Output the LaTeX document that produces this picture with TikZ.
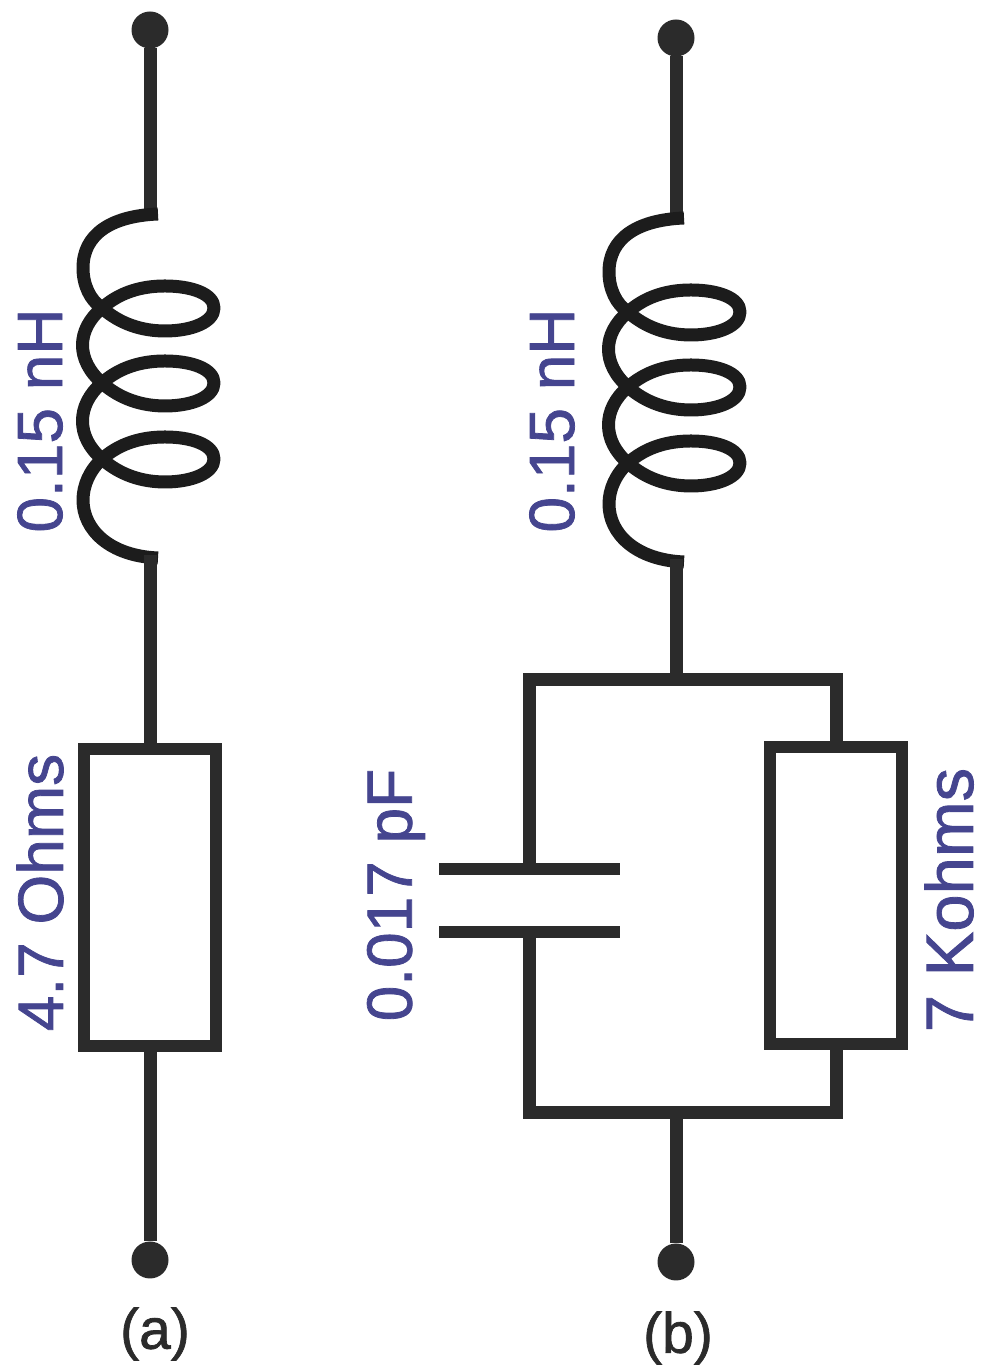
\documentclass[tikz,border=0pt]{standalone}
\usepackage{fontspec}
\setmainfont{Liberation Sans}
\newfontfamily\lblfont[FakeBold=1.2]{Liberation Sans}
\definecolor{wire}{HTML}{2B2B2B}
\definecolor{coilc}{HTML}{1C1C1C}
\definecolor{lab}{HTML}{45458F}
\tikzset{
  wirepath/.style={draw=wire,line width=13pt,line join=miter},
  platepath/.style={draw=wire,line width=12pt},
  coilpath/.style={draw=coilc,line width=13pt,line join=round},
  box/.style={draw=wire,line width=12pt,fill=white,inner sep=0,outer sep=0,minimum width=132pt,minimum height=297pt},
  term/.style={circle,fill=wire,minimum size=37pt,inner sep=0,outer sep=0},
  lbl/.style={text=lab,font=\lblfont\fontsize{64}{64}\selectfont,rotate=90,inner sep=0},
  captext/.style={text=wire,font=\lblfont\fontsize{57}{57}\selectfont,inner sep=0}
}
% #1 = x of the wire, #2 = shift of y in image pixels
\newcommand{\coil}[2]{%
 \begin{scope}[shift={(#1,1367-#2)},yscale=-1]
 \draw[coilpath] (8,214) .. controls (-40,216) and (-67,235) .. (-67,268)
   .. controls (-67,285) and (-60,300) .. (-48,308)
   .. controls (-74,330) and (-74,360) .. (-48,383)
   .. controls (-74,405) and (-74,437) .. (-48,459)
   .. controls (-60,470) and (-67,485) .. (-67,500)
   .. controls (-67,530) and (-40,556) .. (8,558);
 \foreach \yy in {308,383,459}{
   \draw[coilpath] (-48,\yy) .. controls (-30,\yy-16) and (-8,\yy-22) .. (15,\yy-22)
     .. controls (42,\yy-22) and (64,\yy-14) .. (64,\yy)
     .. controls (64,\yy+14) and (42,\yy+23) .. (15,\yy+23)
     .. controls (-8,\yy+23) and (-30,\yy+16) .. (-48,\yy) -- cycle;
 }
 \end{scope}}
\begin{document}
\begin{tikzpicture}[x=1pt,y=1pt]
\useasboundingbox (0,0) rectangle (986,1367);
% (a)
\node[term] (a1) at (150,1367-30) {};
\coordinate (a2) at (150,1367-217);
\coordinate (a3) at (150,1367-555);
\node[term] (a4) at (150,1367-1260) {};
\node[box] (ra) at (150,1367-898) {};
\draw[wirepath] (a1) -- (a2);
\coil{150}{0}
\draw[wirepath] (a3) -- (ra.north);
\draw[wirepath] (ra.south) -- (a4);
\node[lbl] (la1) at (40,1367-420.5) {0.15 nH};
\node[lbl] (la2) at (40,1367-892.5) {4.7 Ohms};
\node[captext] (ca) at (155,1367-1334) {(a)};
% (b)
\node[term] (b1) at (676,1367-38) {};
\coordinate (b2) at (676,1367-221);
\coordinate (b3) at (676,1367-559);
\coordinate (bt) at (676,1367-680);
\coordinate (bb) at (676,1367-1113);
\node[term] (b4) at (676,1367-1262) {};
\draw[wirepath] (b1) -- (b2);
\coil{676}{4}
\draw[wirepath] (b3) -- (bt);
\draw[wirepath] (bb) -- (b4);
\node[box] (rb) at (836,1367-896) {};
\coordinate (pu) at (529,1367-869);
\coordinate (pl) at (529,1367-932);
\coordinate (tl) at (529,1367-680);
\coordinate (tr) at (rb.north |- tl);
\coordinate (bl) at (529,1367-1113);
\coordinate (br) at (rb.south |- bl);
\draw[wirepath] (pu) -- (tl) -- (tr) -- (rb.north);
\draw[wirepath] (pl) -- (bl) -- (br) -- (rb.south);
\coordinate (c1l) at (439,1367-869);
\coordinate (c1r) at (620,1367-869);
\coordinate (c2l) at (439,1367-932);
\coordinate (c2r) at (620,1367-932);
\draw[platepath] (c1l) -- (c1r);
\draw[platepath] (c2l) -- (c2r);
\node[lbl] (lb1) at (552,1367-420.5) {0.15 nH};
\node[lbl] (lb2) at (396,1367-895) {0.017 pF};
\node[lbl,font=\lblfont\fontsize{67}{67}\selectfont] (lb3) at (949,1367-900) {7 Kohms};
\node[captext] (cb) at (678,1367-1338) {(b)};
\end{tikzpicture}
\end{document}
